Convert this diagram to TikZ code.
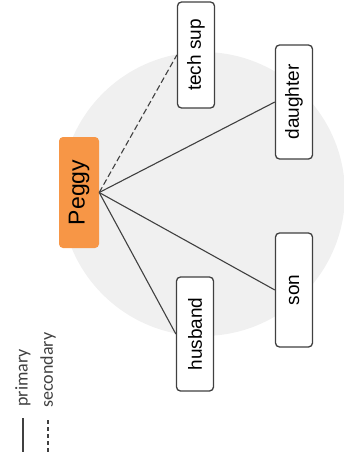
\documentclass[tikz,border=0pt]{standalone}
\usepackage{fontspec}
\setmainfont{Liberation Sans}
\newfontfamily\legendfont{Carlito}
\usetikzlibrary{positioning}
\definecolor{peggyorange}{RGB}{247,150,70}
\definecolor{linegray}{RGB}{64,64,64}
\definecolor{bggray}{RGB}{240,240,240}

\begin{document}
\begin{tikzpicture}[x=1pt, y=-1pt,
    box/.style={rectangle, rounded corners=4pt, draw=linegray, line width=1.3pt, fill=white,
                rotate=90, minimum width=114pt, minimum height=37pt, inner sep=0pt,
                font=\fontsize{19}{22}\selectfont},
    hub/.style={rectangle, rounded corners=4pt, fill=peggyorange, rotate=90,
                minimum width=111pt, minimum height=40pt, inner sep=0pt,
                font=\fontsize{23}{26}\selectfont},
    link/.style={linegray, line width=1.1pt},
    legend/.style={rotate=90, inner sep=0pt, text=black!75,
                   font=\legendfont\fontsize{18}{20}\selectfont}]
\useasboundingbox (0,0) rectangle (344,466);
\clip (0,0) rectangle (344,466);
\fill[bggray] (203,194) circle (142pt);
% hub and contacts
\node[hub] (peggy) at (79,192.5) {Peggy};
\node[box, minimum width=106pt] (techsup) at (196,55) {tech sup};
\node[box] (daughter) at (294,102) {daughter};
\node[box] (son) at (294,290) {son};
\node[box] (husband) at (195,334) {husband};
\draw[link, dash pattern=on 6pt off 3pt] (peggy.south) -- (techsup.north);
\draw[link] (peggy.south) -- (daughter.north);
\draw[link] (peggy.south) -- (son.north);
\draw[link] (peggy.south) -- (husband.north);
% legend
\node[legend] (primary) at (23,378) {primary};
\node[legend] (secondary) at (48,370) {secondary};
\coordinate (pa) at (23,418);
\coordinate (pb) at (23,452);
\coordinate (sa) at (48,420);
\coordinate (sb) at (48,452);
\draw[link, line width=1.3pt] (pa) -- (pb);
\draw[link, line width=1.3pt, dash pattern=on 4pt off 3pt] (sa) -- (sb);
\end{tikzpicture}
\end{document}
